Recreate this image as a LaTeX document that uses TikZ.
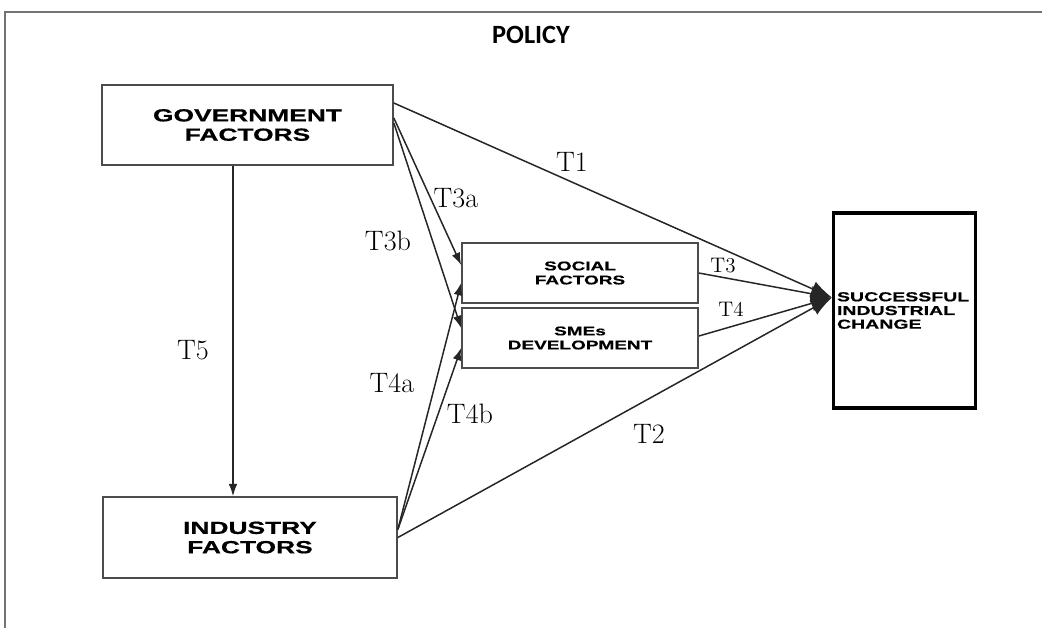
\documentclass[tikz,border=0pt]{standalone}
\usepackage{fontspec}
\usepackage{tikz}
\usetikzlibrary{calc,arrows.meta}
\newfontfamily\boxfont[FakeStretch=1.5,FakeBold=0.6]{Liberation Sans}
\newfontfamily\titlefont{Carlito}

\tikzset{
    factor/.style={draw=black!70, line width=1pt, align=center, inner sep=0pt,
        font=\boxfont\bfseries\fontsize{10}{11}\selectfont},
    smallfactor/.style={factor, font=\boxfont\bfseries\fontsize{7.2}{8}\selectfont},
    conn/.style={line width=0.85pt, black!85, -{Latex[length=7pt,width=5pt]}},
    hubconn/.style={line width=0.85pt, black!85, -{Latex[length=12pt,width=9pt]}},
    tlabel/.style={font=\fontsize{16}{18}\selectfont},
    tsmall/.style={font=\fontsize{12}{14}\selectfont}
}

\begin{document}
\begin{tikzpicture}[x=0.02cm, y=-0.02cm]
    \useasboundingbox (0,0) rectangle (1042,627);
    % outer frame
    \draw[black!55, line width=1.2pt] (5,700) -- (5,12) -- (1100,12);
    \node (policy) at (531,35) {\titlefont\bfseries\fontsize{15}{17}\selectfont POLICY};

    % boxes
    \node[factor, minimum width=5.82cm, minimum height=1.6cm] (gov) at (247.5,125)
        {GOVERNMENT\\FACTORS};
    \node[factor, minimum width=5.88cm, minimum height=1.62cm] (ind) at (250,537.5)
        {INDUSTRY\\FACTORS};
    \node[smallfactor, minimum width=4.72cm, minimum height=1.2cm] (soc) at (580,273)
        {SOCIAL\\FACTORS};
    \node[smallfactor, minimum width=4.72cm, minimum height=1.2cm] (sme) at (580,338)
        {SMEs\\DEVELOPMENT};
    \node[draw=black, line width=1.8pt, minimum width=2.82cm, minimum height=3.9cm,
        text width=2.7cm, align=left, inner sep=2pt,
        font=\boxfont\bfseries\fontsize{7.4}{7.8}\selectfont] (sic) at (904.5,310.5)
        {SUCCESSFUL\\INDUSTRIAL\\CHANGE};
    \coordinate (hub) at ($(sic.west)+(0,-13)$);

    % connectors
    \draw[hubconn] ($(gov.east)+(0,-22)$) -- (hub);
    \draw[hubconn] (soc.east) -- (hub);
    \draw[hubconn] ($(sme.east)+(0,-2)$) -- (hub);
    \draw[hubconn] (ind.east) -- (hub);
    \draw[conn] ($(gov.east)+(0,-7)$) -- ($(soc.west)+(0,-8)$);
    \draw[conn] ($(gov.east)+(0,-2)$) -- ($(sme.west)+(0,-10)$);
    \draw[conn] ($(ind.east)+(0,-8)$) -- ($(soc.west)+(0,10)$);
    \draw[conn] ($(ind.east)+(0,-8)$) -- ($(sme.west)+(0,10)$);
    \draw[conn] ($(gov.south)+(-14.5,0)$) -- ($(ind.north)+(-17,0)$);

    % labels
    \node[tlabel] (t1) at (572,162) {T1};
    \node[tlabel] (t3a) at (456,198) {T3a};
    \node[tlabel] (t3b) at (388,241) {T3b};
    \node[tlabel] (t5) at (193,350) {T5};
    \node[tlabel] (t4a) at (392,383) {T4a};
    \node[tlabel] (t4b) at (470,414) {T4b};
    \node[tlabel] (t2) at (649,434) {T2};
    \node[tsmall] (t3) at (723,266) {T3};
    \node[tsmall] (t4) at (731,309) {T4};
\end{tikzpicture}
\end{document}
